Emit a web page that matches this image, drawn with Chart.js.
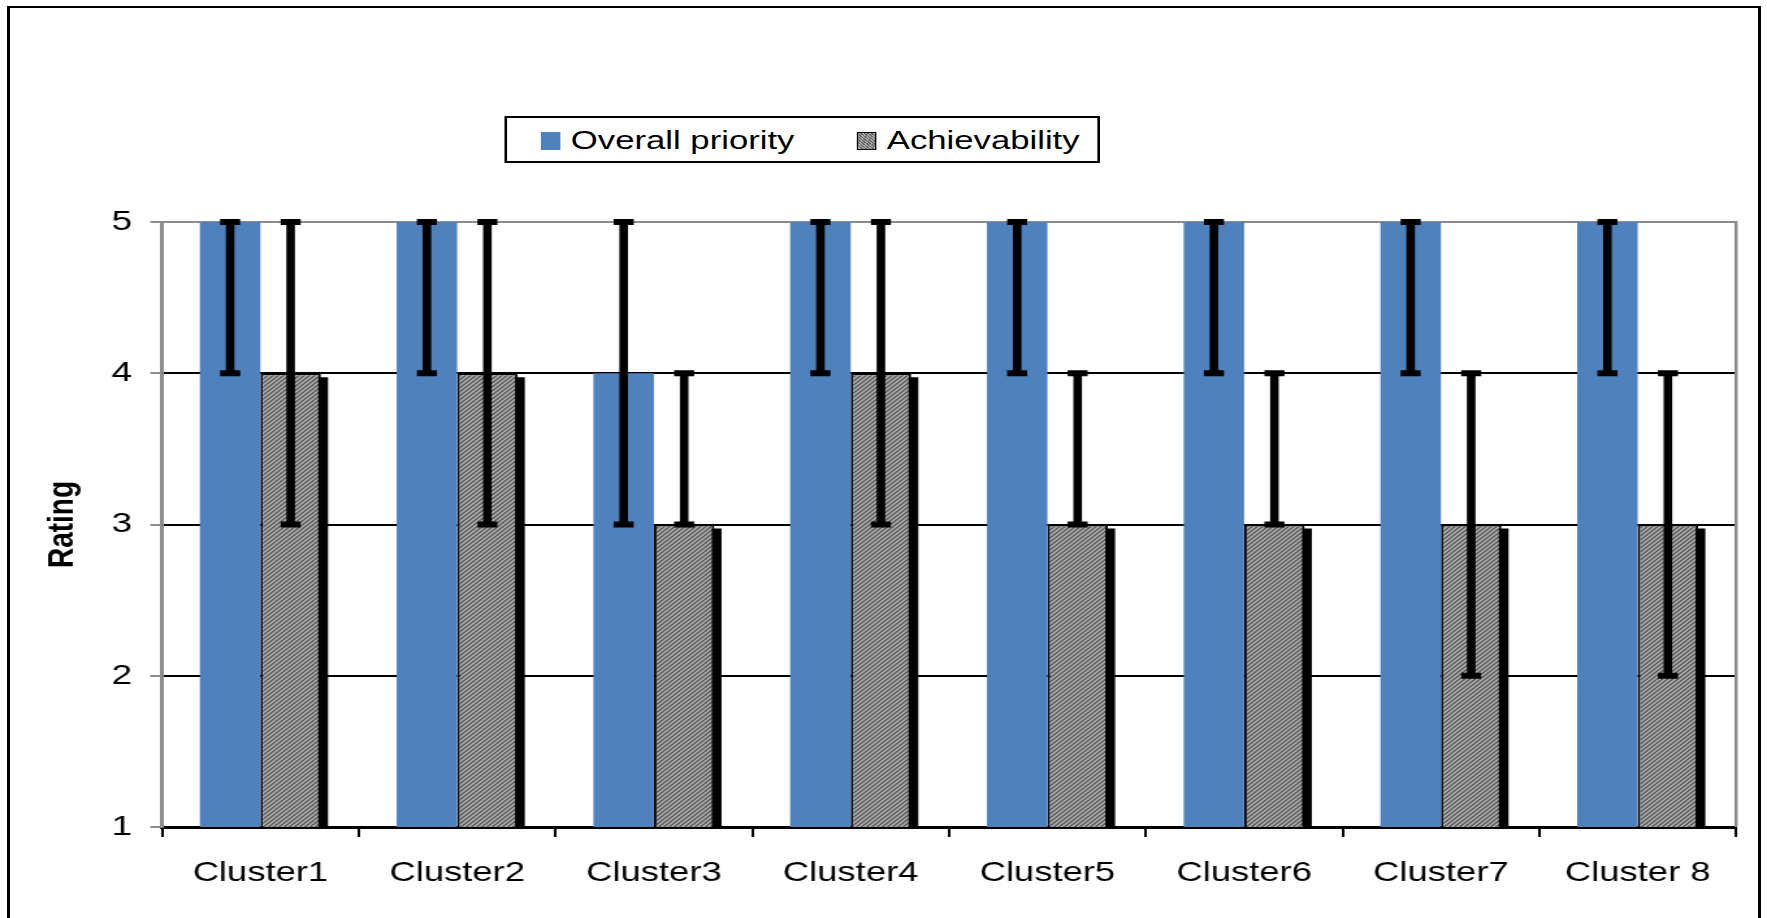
<!DOCTYPE html>
<html lang="en">
<head>
    <meta charset="UTF-8">
    <title>Overall priority and achievability by cluster</title>
    <script src="https://cdn.jsdelivr.net/npm/chart.js"></script>
    <style>
        body {
            margin: 0;
            width: 1767px;
            height: 918px;
            overflow: hidden;
            position: relative;
            background: #ffffff;
            font-family: "Liberation Sans", Arial, sans-serif;
        }

        /* black frame round the whole figure, open at the bottom */
        .frame {
            position: absolute;
            left: 7px;
            top: 6px;
            width: 1754px;
            height: 1000px;
            box-sizing: border-box;
            border: 3px solid #000;
            border-top-width: 2px;
            border-bottom: none;
        }

        /* the original figure is stretched sideways, so draw narrower and widen */
        .stretch {
            position: absolute;
            left: 0;
            top: 0;
            width: 1359px;
            height: 918px;
            transform: scaleX(1.30022);
            transform-origin: 0 0;
        }

        .legend {
            position: absolute;
            left: 388px;
            top: 116px;
            width: 458px;
            height: 47px;
            box-sizing: border-box;
            border: 2px solid #000;
            background: #fff;
        }

        .legend .box {
            position: absolute;
            top: 14px;
            width: 14.6px;
            height: 18px;
            box-sizing: border-box;
        }

        .legend .label {
            position: absolute;
            top: 0;
            height: 43px;
            line-height: 44px;
            font-size: 26.7px;
            color: #000;
            white-space: nowrap;
        }
    </style>
</head>
<body>
    <div class="frame"></div>
    <div class="stretch">
        <canvas id="chart"></canvas>
        <div class="legend">
            <div class="box" style="left: 26px; background: #4f81bd;"></div>
            <div class="label" style="left: 49px;">Overall priority</div>
            <div class="box" style="left: 269px; border: 1.5px solid #000; background: repeating-linear-gradient(45deg, #666 0 1px, #a8a8a8 1px 2px);"></div>
            <div class="label" style="left: 292px;">Achievability</div>
        </div>
    </div>

    <script>
        // Values
        const categories = ["Cluster1", "Cluster2", "Cluster3", "Cluster4", "Cluster5", "Cluster6", "Cluster7", "Cluster 8"];
        const overallPriority = [5, 5, 4, 5, 5, 5, 5, 5];
        const priorityLow = [4, 4, 3, 4, 4, 4, 4, 4];
        const priorityHigh = [5, 5, 5, 5, 5, 5, 5, 5];
        const achievability = [4, 4, 3, 4, 3, 3, 3, 3];
        const achievabilityLow = [3, 3, 3, 3, 3, 3, 2, 2];
        const achievabilityHigh = [5, 5, 4, 5, 4, 4, 4, 4];
        const ratingTicks = [1, 2, 3, 4, 5];

        const font = "'Liberation Sans', Arial, sans-serif";
        const ctx = document.getElementById('chart').getContext('2d');

        // fine grey hatch like the original fill
        function makeHatch() {
            const tile = document.createElement('canvas');
            tile.width = 4;
            tile.height = 4;
            const t = tile.getContext('2d');
            t.fillStyle = '#a8a8a8';
            t.fillRect(0, 0, 4, 4);
            t.fillStyle = '#626262';
            for (let y = 0; y < 4; y++) {
                for (let x = 0; x < 4; x++) {
                    if ((x + y) % 4 < 2) t.fillRect(x, y, 1, 1);
                }
            }
            return ctx.createPattern(tile, 'repeat');
        }

        // black drop shadow behind the hatched bars
        const barShadow = {
            id: 'barShadow',
            beforeDatasetDraw(chart, args) {
                if (args.index !== 1) return;
                const { ctx, chartArea } = chart;
                ctx.save();
                ctx.beginPath();
                ctx.rect(chartArea.left, chartArea.top, chartArea.width, chartArea.height);
                ctx.clip();
                ctx.fillStyle = '#000';
                args.meta.data.forEach(bar => {
                    const p = bar.getProps(['x', 'y', 'base', 'width'], true);
                    ctx.fillRect(p.x - p.width / 2 + 5.5, p.y + 4, p.width, p.base - p.y);
                });
                ctx.restore();
            }
        };

        // grey right edge of the plot area
        const plotEdge = {
            id: 'plotEdge',
            beforeDatasetsDraw(chart) {
                const { ctx, chartArea } = chart;
                ctx.save();
                ctx.strokeStyle = '#8c8c8c';
                ctx.lineWidth = 2.4;
                ctx.beginPath();
                ctx.moveTo(chartArea.right, chartArea.top - 1);
                ctx.lineTo(chartArea.right, chartArea.bottom);
                ctx.stroke();
                ctx.restore();
            }
        };

        // min/max whiskers
        const errorBars = {
            id: 'errorBars',
            afterDatasetsDraw(chart) {
                const { ctx } = chart;
                const y = chart.scales.y;
                const ranges = [[priorityLow, priorityHigh], [achievabilityLow, achievabilityHigh]];
                ctx.save();
                ctx.fillStyle = '#000';
                ranges.forEach(([lo, hi], di) => {
                    chart.getDatasetMeta(di).data.forEach((bar, i) => {
                        const yLo = y.getPixelForValue(lo[i]);
                        const yHi = y.getPixelForValue(hi[i]);
                        ctx.fillRect(bar.x - 3.3, yHi, 6.6, yLo - yHi);
                        ctx.fillRect(bar.x - 7.7, yHi - 3, 15.4, 6);
                        ctx.fillRect(bar.x - 7.7, yLo - 3, 15.4, 6);
                    });
                });
                ctx.restore();
            }
        };

        new Chart(ctx, {
            type: 'bar',
            data: {
                labels: categories,
                datasets: [
                    {
                        label: "Overall priority",
                        data: overallPriority,
                        backgroundColor: "#4f81bd",
                        borderWidth: 0
                    },
                    {
                        label: "Achievability",
                        data: achievability,
                        backgroundColor: makeHatch(),
                        borderColor: "#000000",
                        borderWidth: 2
                    }
                ]
            },
            options: {
                responsive: true,
                maintainAspectRatio: false,
                animation: false,
                datasets: {
                    bar: {
                        categoryPercentage: 0.615,
                        barPercentage: 1.0
                    }
                },
                layout: {
                    padding: { top: 222, right: 23.8, bottom: 0, left: 0 }
                },
                plugins: {
                    legend: { display: false },
                    tooltip: { enabled: false }
                },
                scales: {
                    x: {
                        z: 1,
                        afterFit(scale) { scale.height = 91; },
                        border: { color: '#000', width: 3 },
                        grid: {
                            drawOnChartArea: false,
                            drawTicks: true,
                            tickLength: 10,
                            color: '#000',
                            lineWidth: 2
                        },
                        ticks: {
                            color: '#000',
                            padding: 19,
                            maxRotation: 0,
                            font: { family: font, size: 28 }
                        }
                    },
                    y: {
                        min: 1,
                        max: 5,
                        afterFit(scale) { scale.width = 124.6; },
                        afterBuildTicks(scale) {
                            scale.ticks = ratingTicks.map(v => ({ value: v }));
                        },
                        border: { color: '#8c8c8c', width: 3 },
                        grid: {
                            color: c => (c.tick && c.tick.value === 5 ? '#8c8c8c' : '#000'),
                            tickColor: '#8c8c8c',
                            lineWidth: 2,
                            tickLength: 9
                        },
                        ticks: {
                            color: '#000',
                            padding: 14,
                            font: { family: font, size: 28.5 }
                        },
                        title: {
                            display: true,
                            text: 'Rating',
                            color: '#000',
                            padding: { top: 31, bottom: 0 },
                            font: { family: font, size: 28, weight: 'bold' }
                        }
                    }
                }
            },
            plugins: [plotEdge, barShadow, errorBars]
        });
    </script>
</body>
</html>
